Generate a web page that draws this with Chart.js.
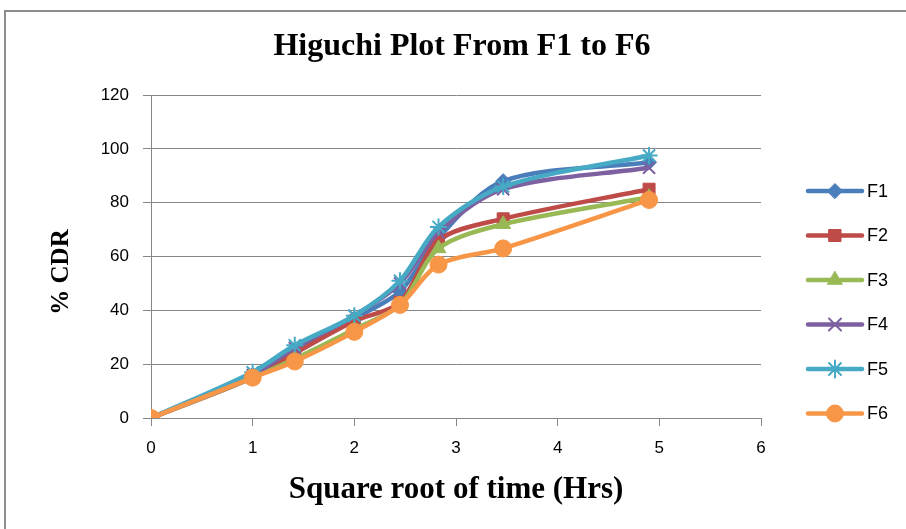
<!DOCTYPE html>
<html>
<head>
<meta charset="utf-8">
<script src="https://cdn.jsdelivr.net/npm/chart.js@4/dist/chart.umd.min.js"></script>
<style>
  body { margin: 0; background: #fff; }
  #wrap { width: 906px; height: 529px; position: relative; }
</style>
</head>
<body>
<div id="wrap"><canvas id="higuchi" width="906" height="529"></canvas></div>
<script>
// square root of sampling time (0,1,2,4,6,8,12,24 hrs)
var rootTime = [0, 1, 1.414, 2, 2.449, 2.828, 3.464, 4.899];
var seriesNames = ["F1", "F2", "F3", "F4", "F5", "F6"];
var f1 = [0, 16, 25, 37, 47, 67, 88, 95];
var f2 = [0, 15, 24, 36, 43, 66, 74, 85];
var f3 = [0, 15, 22, 33, 42, 63, 72, 82];
var f4 = [0, 16, 26, 38, 50, 69, 85, 93];
var f5 = [0, 17, 27, 38, 51, 71, 86, 97.5];
var f6 = [0, 15, 21, 32, 42, 57, 63, 81];
var yTicks = [0, 20, 40, 60, 80, 100, 120];
var xTicks = [0, 1, 2, 3, 4, 5, 6];

var lineColors = ["#4A7EBB", "#BE4B48", "#98B954", "#7D60A0", "#46AAC5", "#F79646"];
var markers = ["rectRot", "rect", "triangle", "crossRot", "star", "circle"];
var markerSize = [7.5, 8.5, 8.5, 8.5, 8.5, 8.5];

var allSeries = [f1, f2, f3, f4, f5, f6];
var datasets = allSeries.map(function (vals, i) {
  return {
    label: seriesNames[i],
    data: vals.map(function (v, k) { return { x: rootTime[k], y: v }; }),
    borderColor: lineColors[i],
    backgroundColor: lineColors[i],
    pointBackgroundColor: lineColors[i],
    pointBorderColor: lineColors[i],
    pointStyle: markers[i],
    pointRadius: markerSize[i],
    pointBorderWidth: (i == 3 || i == 4) ? 2 : 1,
    borderWidth: 4.5,
    tension: 0.3,
    order: 6 - i  // F6 ends up on top
  };
});

// frame, titles and the line+marker legend on the right
var decor = {
  id: "decor",
  beforeDraw: function (chart) {
    var ctx = chart.ctx;
    ctx.save();
    ctx.fillStyle = "#fff";
    ctx.fillRect(0, 0, chart.width, chart.height);
    ctx.strokeStyle = "#8c8c8c";
    ctx.lineWidth = 2;
    ctx.strokeRect(5, 11, 1000, 1000);
    ctx.restore();
  },
  afterDraw: function (chart) {
    var ctx = chart.ctx;
    ctx.save();
    ctx.fillStyle = "#000";
    ctx.font = "bold 32px 'Liberation Serif'";
    ctx.textAlign = "center";
    ctx.textBaseline = "middle";
    ctx.fillText("Higuchi Plot From F1 to F6", 462, 47);

    // y axis title, rotated
    ctx.save();
    ctx.translate(62, 272);
    ctx.rotate(-Math.PI / 2);
    ctx.font = "bold 25px 'Liberation Serif'";
    ctx.fillText("% CDR", 0, 0);
    ctx.restore();

    var y0 = 191, gap = 44.5;
    chart.data.datasets.forEach(function (ds, i) {
      var y = y0 + i * gap;
      ctx.strokeStyle = ds.borderColor;
      ctx.lineWidth = 4.5;
      ctx.lineCap = "round";
      ctx.beginPath();
      ctx.moveTo(808, y);
      ctx.lineTo(862, y);
      ctx.stroke();
      ctx.fillStyle = ds.pointBackgroundColor;
      ctx.strokeStyle = ds.pointBorderColor;
      ctx.lineWidth = ds.pointBorderWidth;
      Chart.helpers.drawPoint(ctx, {
        pointStyle: ds.pointStyle,
        radius: ds.pointRadius,
        borderWidth: ds.pointBorderWidth,
        rotation: 0
      }, 835, y);
      ctx.fillStyle = "#000";
      ctx.font = "18px 'Liberation Sans'";
      ctx.textAlign = "left";
      ctx.fillText(ds.label, 867, y + 1);
    });
    ctx.restore();
  }
};

new Chart("higuchi", {
  type: "line",
  data: { datasets: datasets },
  plugins: [decor],
  options: {
    responsive: false,
    animation: false,
    layout: { padding: { left: 0, right: 145, top: 95, bottom: 0 } },
    plugins: {
      legend: { display: false },
      title: { display: false },
      tooltip: { enabled: false }
    },
    scales: {
      x: {
        type: "linear",
        min: 0,
        max: 6,
        afterBuildTicks: function (axis) {
          axis.ticks = xTicks.map(function (v) { return { value: v }; });
        },
        afterFit: function (axis) { axis.height = 111; },
        grid: { display: true, drawOnChartArea: false, color: "#868686", tickLength: 8, tickColor: "#868686" },
        border: { color: "#868686", width: 1 },
        ticks: { color: "#000", padding: 12, font: { size: 17, family: "'Liberation Sans'" } },
        title: {
          display: true,
          text: "Square root of time (Hrs)",
          color: "#000",
          font: { size: 31, weight: "bold", family: "'Liberation Serif'" },
          padding: { top: 0, bottom: 20 }
        }
      },
      y: {
        min: 0,
        max: 120,
        afterBuildTicks: function (axis) {
          axis.ticks = yTicks.map(function (v) { return { value: v }; });
        },
        afterFit: function (axis) { axis.width = 151; },
        grid: { color: "#868686", tickLength: 8, tickColor: "#868686" },
        border: { color: "#868686", width: 1 },
        ticks: { color: "#000", padding: 14, font: { size: 17, family: "'Liberation Sans'" } },
        title: { display: false }
      }
    }
  }
});
</script>
</body>
</html>
